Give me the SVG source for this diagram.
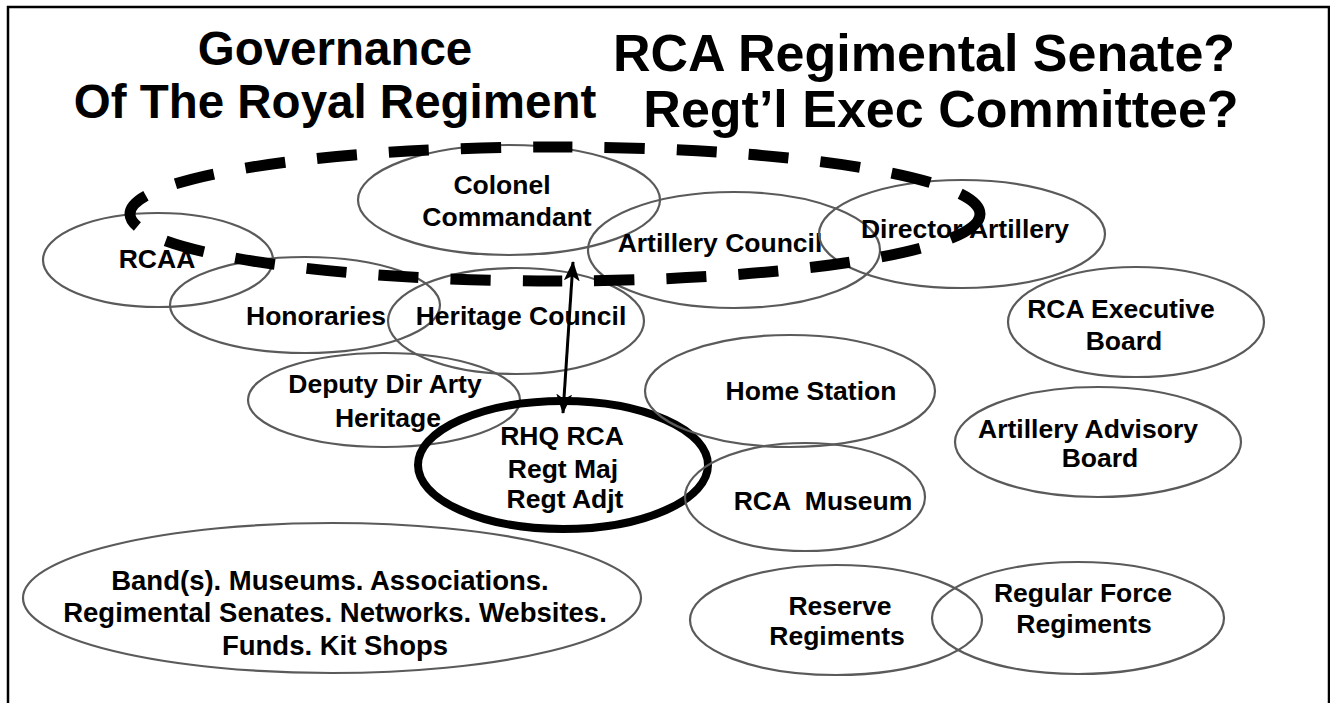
<svg xmlns="http://www.w3.org/2000/svg" width="1330" height="703" viewBox="0 0 1330 703">
<style>
.n{fill:none;stroke:#5a5a5a;stroke-width:2.2}
.t{font-family:"Liberation Sans",Arial,sans-serif;font-weight:bold;font-size:26.5px;fill:#000;text-anchor:middle}
.b{font-size:27.5px}
.h{font-family:"Liberation Sans",Arial,sans-serif;font-weight:bold;fill:#000;text-anchor:middle}
</style>
<defs>
<marker id="ah" viewBox="0 0 20 16" refX="19" refY="8" markerWidth="20" markerHeight="16" markerUnits="userSpaceOnUse" orient="auto-start-reverse">
<path d="M0,0 L20,8 L0,16 L5,8 Z" fill="#000"/>
</marker>
</defs>
<rect width="1330" height="703" fill="#fff"/>
<path d="M8,703 V7 H1329 V703" fill="none" stroke="#000" stroke-width="2.5"/>
<g id="titles">
<text class="h" x="335" y="65" font-size="47.5">Governance</text>
<text class="h" x="335" y="118" font-size="47.5">Of The Royal Regiment</text>
<text class="h" x="924" y="71" font-size="52">RCA Regimental Senate?</text>
<text class="h" x="941" y="127" font-size="52">Regt’l Exec Committee?</text>
</g>
<g id="colonel"><ellipse class="n" cx="509" cy="200" rx="151" ry="55"/><text class="t" x="502" y="194">Colonel</text><text class="t" x="507" y="226">Commandant</text></g>
<g id="artycouncil"><ellipse class="n" cx="734" cy="250" rx="146" ry="58"/><text class="t" x="720" y="252">Artillery Council</text></g>
<g id="dirarty"><ellipse class="n" cx="962" cy="234" rx="143" ry="54"/><text class="t" x="965" y="238">Director Artillery</text></g>
<g id="rcaa"><ellipse class="n" cx="158" cy="260" rx="115" ry="47"/><text class="t" x="157" y="268">RCAA</text></g>
<g id="honoraries"><ellipse class="n" cx="305" cy="305" rx="135" ry="48"/><text class="t" x="316" y="325">Honoraries</text></g>
<g id="heritage"><ellipse class="n" cx="516" cy="321" rx="128" ry="53"/><text class="t" x="521" y="325">Heritage Council</text></g>
<g id="deputy"><ellipse class="n" cx="384" cy="400" rx="136" ry="47"/><text class="t" x="385" y="393">Deputy Dir Arty</text><text class="t" x="388" y="427">Heritage</text></g>
<g id="rhq"><ellipse cx="563" cy="465" rx="145" ry="64" fill="none" stroke="#000" stroke-width="8"/><text class="t" x="562" y="445">RHQ RCA</text><text class="t" x="563" y="478">Regt Maj</text><text class="t" x="565" y="508">Regt Adjt</text></g>
<g id="homestation"><ellipse class="n" cx="790" cy="391" rx="145" ry="56"/><text class="t" x="811" y="400">Home Station</text></g>
<g id="museum"><ellipse class="n" cx="805" cy="497" rx="120" ry="54"/><text class="t" x="823" y="510" xml:space="preserve">RCA  Museum</text></g>
<g id="execboard"><ellipse class="n" cx="1136" cy="322" rx="128" ry="55"/><text class="t" x="1121" y="318">RCA Executive</text><text class="t" x="1124" y="350">Board</text></g>
<g id="advisory"><ellipse class="n" cx="1098" cy="442" rx="143" ry="55"/><text class="t" x="1088" y="438">Artillery Advisory</text><text class="t" x="1100" y="467">Board</text></g>
<g id="bands"><ellipse class="n" cx="332" cy="598" rx="309" ry="75"/><text class="t b" x="330" y="590">Band(s). Museums. Associations.</text><text class="t b" x="335" y="622">Regimental Senates. Networks. Websites.</text><text class="t b" x="335" y="655">Funds. Kit Shops</text></g>
<g id="reserve"><ellipse class="n" cx="836" cy="620" rx="146" ry="55"/><text class="t" x="840" y="615">Reserve</text><text class="t" x="837" y="645">Regiments</text></g>
<g id="regular"><ellipse class="n" cx="1078" cy="618" rx="146" ry="56"/><text class="t" x="1083" y="602">Regular Force</text><text class="t" x="1084" y="633">Regiments</text></g>
<g id="senate"><ellipse cx="555" cy="214" rx="425" ry="67" fill="none" stroke="#000" stroke-width="11" stroke-dasharray="40 32"/></g>
<g id="connectors"><line x1="563" y1="413" x2="573" y2="262" stroke="#000" stroke-width="3" marker-start="url(#ah)" marker-end="url(#ah)"/></g>
</svg>
